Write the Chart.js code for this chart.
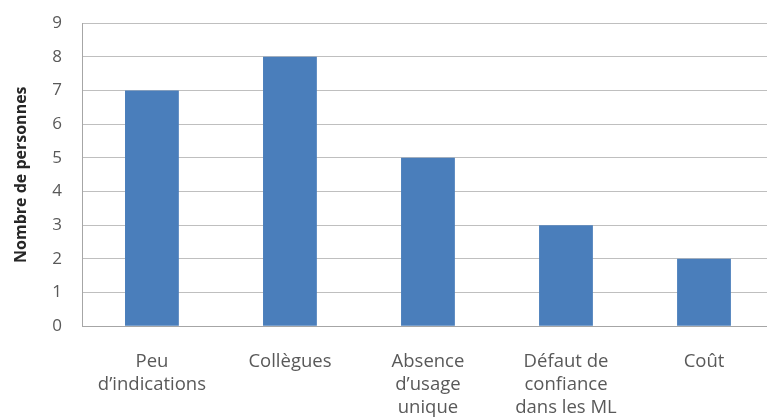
<!DOCTYPE html>
<html>
<head>
<meta charset="utf-8">
<script src="https://cdn.jsdelivr.net/npm/chart.js@4/dist/chart.umd.min.js"></script>
<style>
    html, body { margin: 0; padding: 0; background: #fff; overflow: hidden; }
    #wrap { position: relative; top: -8px; width: 780px; height: 451px; }
</style>
</head>
<body>
<div id="wrap"><canvas id="raisons-chart"></canvas></div>
<script>
const categories = [
    ['Peu', 'd’indications'],
    ['Collègues'],
    ['Absence', 'd’usage', 'unique'],
    ['Défaut de', 'confiance', 'dans les ML'],
    ['Coût']
];
const personnes = [7, 8, 5, 3, 2];
const yTicks = [0, 1, 2, 3, 4, 5, 6, 7, 8, 9];

const FONT = '"Open Sans", sans-serif';

new Chart(document.getElementById('raisons-chart'), {
    type: 'bar',
    data: {
        labels: categories,
        datasets: [{
            data: personnes,
            backgroundColor: '#4a7ebb',
            borderWidth: 0,
            categoryPercentage: 1,
            barPercentage: 0.39
        }]
    },
    options: {
        responsive: true,
        maintainAspectRatio: false,
        animation: false,
        layout: { padding: { left: 12, right: 7, top: 6, bottom: 0 } },
        plugins: {
            legend: { display: false },
            tooltip: { enabled: false }
        },
        scales: {
            x: {
                grid: { display: false, drawTicks: false },
                border: { color: '#a6a6a6' },
                ticks: {
                    color: '#595959',
                    padding: 24,
                    maxRotation: 0,
                    font: { family: FONT, size: 18.5, lineHeight: 1.24 }
                }
            },
            y: {
                min: 0,
                max: 9,
                afterBuildTicks: (axis) => { axis.ticks = yTicks.map(v => ({ value: v })); },
                grid: { color: '#bfbfbf', drawTicks: false },
                border: { color: '#a6a6a6' },
                ticks: {
                    color: '#595959',
                    padding: 21,
                    font: { family: FONT, size: 17 }
                },
                title: {
                    display: true,
                    text: 'Nombre de personnes',
                    color: '#262626',
                    padding: { top: 0, bottom: 0 },
                    font: { family: FONT, size: 16, weight: 'bold' }
                }
            }
        }
    }
});
</script>
</body>
</html>
